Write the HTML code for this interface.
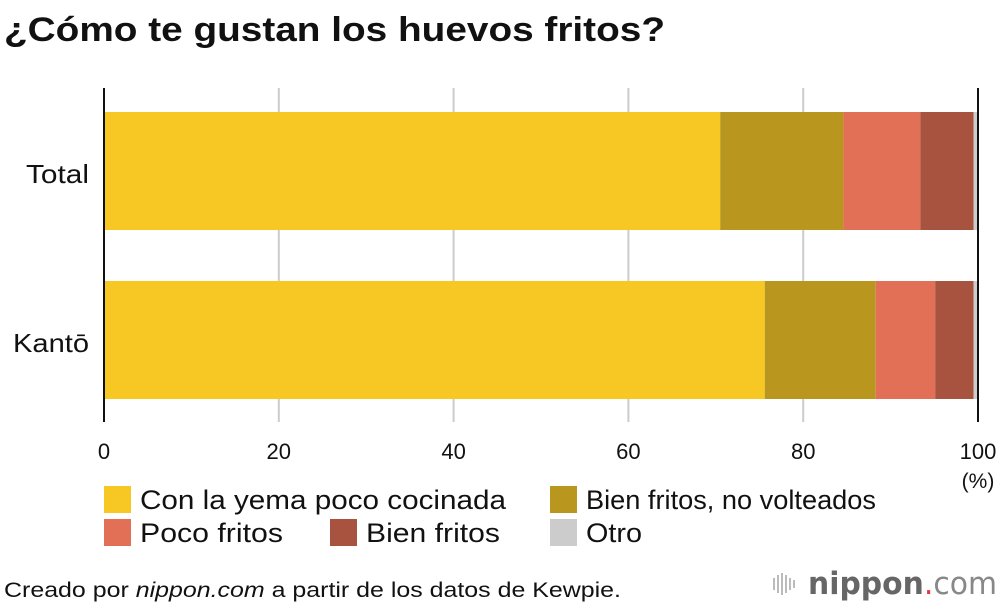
<!DOCTYPE html>
<html><head><meta charset="utf-8"><style>
body{margin:0;width:1000px;height:610px;background:#fff;font-family:"Liberation Sans",sans-serif;overflow:hidden}
</style></head><body>
<svg width="1000" height="610">
<text x="4" y="41" font-size="34" font-weight="bold" fill="#111" textLength="661" lengthAdjust="spacingAndGlyphs">¿Cómo te gustan los huevos fritos?</text>
<g id="grid"></g><g id="bars"></g><g id="axes"></g><g id="legend"></g>
<text x="4" y="597" font-size="21" fill="#111" textLength="617" lengthAdjust="spacingAndGlyphs">Creado por <tspan font-style="italic">nippon.com</tspan> a partir de los datos de Kewpie.</text>
<g>
<g fill="#bbb"><rect x="773" y="578" width="2" height="12"/><rect x="777" y="575" width="2" height="18"/><rect x="781" y="573" width="2" height="22"/><rect x="785" y="575" width="2" height="18"/><rect x="789" y="578" width="2" height="12"/><rect x="793" y="580" width="2" height="8"/></g>
<text x="808" y="594" font-size="31" fill="#666" font-family="DejaVu Sans, sans-serif" textLength="189" lengthAdjust="spacingAndGlyphs"><tspan font-weight="bold">nippon</tspan><tspan fill="#e33">.</tspan><tspan fill="#888">com</tspan></text>
</g>
</svg>
<script>
const categories=["Total","Kantō"];
const seriesNames=["Con la yema poco cocinada","Bien fritos, no volteados","Poco fritos","Bien fritos","Otro"];
const yemaPoco=[70.5,75.6];
const noVolteados=[14.1,12.7];
const pocoFritos=[8.8,6.8];
const bienFritos=[6.1,4.4];
const otro=[0.5,0.5];
const ticks=[0,20,40,60,80,100];
const colors=["#f7c823","#b9971e","#e27056","#a85340","#cccccc"];
const NS="http://www.w3.org/2000/svg";
const x=v=>104+v*8.74;
const rowTop=[112,281], bh=118;
function mk(t,a,p){const e=document.createElementNS(NS,t);for(const k in a)e.setAttribute(k,a[k]);p.appendChild(e);return e;}
const grid=document.getElementById('grid'),bars=document.getElementById('bars'),axes=document.getElementById('axes'),leg=document.getElementById('legend');
ticks.forEach(t=>{
 if(t>0&&t<100){const l=mk('line',{x1:x(t),x2:x(t),y1:88,y2:422,stroke:'#ccc','stroke-width':2},grid);
 
 }
 const tx=mk('text',{x:x(t),y:459,'font-size':22,'text-anchor':'middle',fill:'#111'},axes);tx.textContent=t;
 
 
});
const u=mk('text',{x:978,y:488,'font-size':21,'text-anchor':'middle',fill:'#111'},axes);u.textContent='(%)';


const series=[yemaPoco,noVolteados,pocoFritos,bienFritos,otro];
const labW=[63,76];
categories.forEach((c,i)=>{
 let acc=0;
 series.forEach((s,j)=>{
  const r=mk('rect',{x:x(acc),y:rowTop[i],width:x(acc+s[i])-x(acc),height:bh,fill:colors[j]},bars);
  
  
  acc+=s[i];
 });
 const t=mk('text',{x:89-labW[i],y:rowTop[i]+bh/2+12,'font-size':26,fill:'#111',textLength:labW[i],lengthAdjust:'spacingAndGlyphs'},axes);t.textContent=c;
 
 
});
const a1=mk('line',{x1:104,x2:104,y1:88,y2:422,stroke:'#111','stroke-width':2},axes);


const a2=mk('line',{x1:978,x2:978,y1:88,y2:422,stroke:'#111','stroke-width':2},axes);


const lp=[[104,486],[550,486],[104,519],[330,519],[550,519]];
const lw=[366,290,143,134,56];
seriesNames.forEach((n,j)=>{
 const g=mk('g',{},leg);
 
 
 mk('rect',{x:lp[j][0],y:lp[j][1],width:27,height:27,fill:colors[j]},g);
 const t=mk('text',{x:lp[j][0]+36,y:lp[j][1]+23,'font-size':27,fill:'#111',textLength:lw[j],lengthAdjust:'spacingAndGlyphs'},g);t.textContent=n;
});
</script>
</body></html>
